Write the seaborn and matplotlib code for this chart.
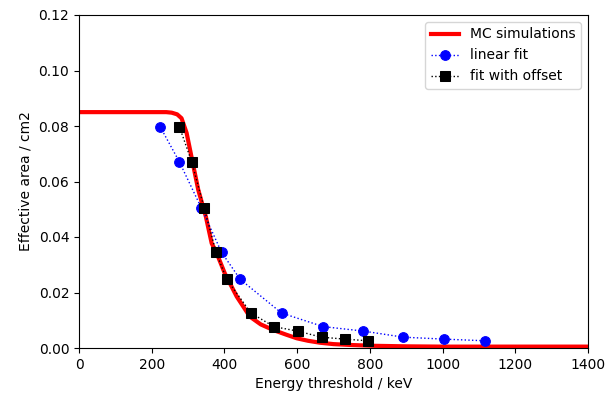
import matplotlib
matplotlib.use("Agg")
import matplotlib.pyplot as plt
import seaborn as sns
import pandas as pd

# MC simulation curve
mc_energy = [0, 100, 200, 240, 255, 270, 282, 296, 310, 328, 342, 349, 365, 377,
             401, 434, 470, 500, 534, 570, 599, 630, 663, 700, 745, 808, 900,
             1000, 1200, 1400]
mc_area = [0.085, 0.085, 0.085, 0.085, 0.0848, 0.0842, 0.0828, 0.0775, 0.0685,
           0.057, 0.0505, 0.0473, 0.0377, 0.0347, 0.0269, 0.0185, 0.0113,
           0.0085, 0.0065, 0.0048, 0.0035, 0.0026, 0.0019, 0.0014, 0.0011,
           0.0008, 0.0006, 0.0005, 0.0005, 0.0005]

# fitted points (same effective areas, different energy thresholds)
fit_area = [0.0798, 0.0671, 0.0506, 0.0345, 0.0248, 0.0126, 0.0077, 0.0061,
            0.0039, 0.0032, 0.0026]
linear_energy = [223, 276, 336, 392, 443, 557, 672, 782, 892, 1004, 1117]
offset_energy = [276, 310, 344, 377, 406, 473, 536, 601, 667, 731, 795]

fig, ax = plt.subplots(figsize=(6.11, 3.99), dpi=100)
fig.subplots_adjust(left=79 / 611, right=588 / 611, top=1 - 15 / 399,
                    bottom=1 - 348 / 399)

sns.lineplot(x=mc_energy, y=mc_area, ax=ax, color="red", linewidth=3,
             label="MC simulations", sort=False)
sns.lineplot(x=linear_energy, y=fit_area, ax=ax, color="blue", linestyle=":",
             linewidth=1, marker="o", markersize=7, markeredgecolor="blue",
             label="linear fit", sort=False)
sns.lineplot(x=offset_energy, y=fit_area, ax=ax, color="black", linestyle=":",
             linewidth=1, marker="s", markersize=7, markeredgecolor="black",
             label="fit with offset", sort=False)

ax.set_xlim(0, 1400)
ax.set_ylim(0, 0.12)
ax.set_xticks(range(0, 1401, 200))
ax.set_yticks([0.0, 0.02, 0.04, 0.06, 0.08, 0.10, 0.12])
ax.yaxis.set_major_formatter(matplotlib.ticker.FormatStrFormatter("%.2f"))
ax.set_xlabel("Energy threshold / keV")
ax.set_ylabel("Effective area / cm2")
ax.legend(loc="upper right")

fig.savefig("out.png", dpi=100)
